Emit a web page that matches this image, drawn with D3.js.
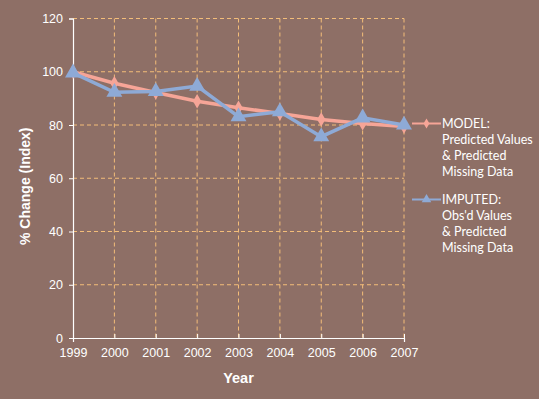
<!DOCTYPE html>
<html>
<head>
<meta charset="utf-8">
<script src="https://cdn.jsdelivr.net/npm/d3@7"></script>
<style>
  body { margin: 0; background: #8e6f66; }
  svg { display: block; }
</style>
</head>
<body>
<div id="chart"></div>
<script>
const years = [1999, 2000, 2001, 2002, 2003, 2004, 2005, 2006, 2007];
const model = [100, 95.7, 92.2, 88.9, 86.5, 84.3, 82.1, 80.6, 79.4];
const imputed = [99.6, 92.3, 92.6, 94.6, 83.1, 85.0, 75.6, 82.7, 80.0];
const yTicks = [0, 20, 40, 60, 80, 100, 120];
const legendModel = ["MODEL:", "Predicted Values", "& Predicted", "Missing Data"];
const legendImputed = ["IMPUTED:", "Obs'd Values", "& Predicted", "Missing Data"];

const width = 539;
const height = 399;
const pink = "#f6a597";
const blue = "#8eaad6";
const grid = "#f3bd79";

const svg = d3.select("#chart")
  .append("svg")
  .attr("width", width)
  .attr("height", height);

svg.append("rect")
  .attr("width", width)
  .attr("height", height)
  .attr("fill", "#8e6f66");

const x = d3.scaleLinear()
  .domain([1999, 2007])
  .range([73, 404]);

const y = d3.scaleLinear()
  .domain([0, 120])
  .range([338, 18.5]);

// gridlines
svg.append("g")
  .selectAll("line")
  .data(yTicks.filter(d => d > 0))
  .enter()
  .append("line")
  .attr("x1", x(1999))
  .attr("x2", x(2007))
  .attr("y1", d => y(d))
  .attr("y2", d => y(d))
  .attr("stroke", grid)
  .attr("stroke-dasharray", "4,3");

svg.append("g")
  .selectAll("line")
  .data(years.slice(1))
  .enter()
  .append("line")
  .attr("x1", d => x(d))
  .attr("x2", d => x(d))
  .attr("y1", y(120))
  .attr("y2", y(0))
  .attr("stroke", grid)
  .attr("stroke-dasharray", "4,3");

// axes
const xAxis = svg.append("g")
  .attr("transform", `translate(0,${y(0)})`)
  .call(d3.axisBottom(x).tickValues(years).tickFormat(d3.format("d")).tickSize(4).tickPadding(6));

const yAxis = svg.append("g")
  .attr("transform", `translate(${x(1999)},0)`)
  .call(d3.axisLeft(y).tickValues(yTicks).tickSize(4).tickPadding(4));

[xAxis, yAxis].forEach(g => {
  g.select(".domain").attr("stroke", "#ffffff").attr("stroke-width", 1.2);
  g.selectAll(".tick line").attr("stroke", "#ffffff");
  g.selectAll(".tick text")
    .attr("fill", "#ffffff")
    .style("font-family", "Liberation Sans, Arial, sans-serif")
    .style("font-size", "12.5px");
});
xAxis.selectAll(".tick line").attr("transform", "translate(0,-4)");
yAxis.selectAll(".tick text").attr("dx", "-2");

// axis titles
svg.append("text")
  .attr("x", x(2003))
  .attr("y", 383)
  .attr("text-anchor", "middle")
  .attr("fill", "#ffffff")
  .style("font-family", "Liberation Sans, Arial, sans-serif")
  .style("font-weight", "bold")
  .style("font-size", "14.5px")
  .text("Year");

svg.append("text")
  .attr("transform", `translate(30,${y(57)}) rotate(-90)`)
  .attr("text-anchor", "middle")
  .attr("fill", "#ffffff")
  .style("font-family", "Liberation Sans, Arial, sans-serif")
  .style("font-weight", "bold")
  .style("font-size", "14px")
  .text("% Change (Index)");

// series
const line = d3.line()
  .x((d, i) => x(years[i]))
  .y(d => y(d));

svg.append("path")
  .datum(model)
  .attr("d", line)
  .attr("fill", "none")
  .attr("stroke", pink)
  .attr("stroke-width", 3.5);

svg.append("g")
  .selectAll("path")
  .data(model)
  .enter()
  .append("path")
  .attr("d", d3.symbol().type(d3.symbolDiamond).size(60))
  .attr("transform", (d, i) => `translate(${x(years[i])},${y(d)})`)
  .attr("fill", pink);

svg.append("path")
  .datum(imputed)
  .attr("d", line)
  .attr("fill", "none")
  .attr("stroke", blue)
  .attr("stroke-width", 3.5);

svg.append("g")
  .selectAll("path")
  .data(imputed)
  .enter()
  .append("path")
  .attr("d", d3.symbol().type(d3.symbolTriangle).size(110))
  .attr("transform", (d, i) => `translate(${x(years[i])},${y(d)})`)
  .attr("fill", blue);

// legend
function legendItem(top, color, symbolType, size, lines) {
  const g = svg.append("g").attr("transform", `translate(412,${top})`);
  g.append("line")
    .attr("x1", 0).attr("x2", 29)
    .attr("stroke", color)
    .attr("stroke-width", 2);
  g.append("path")
    .attr("d", d3.symbol().type(symbolType).size(size))
    .attr("transform", "translate(14.5,0)")
    .attr("fill", color);
  g.selectAll("text")
    .data(lines)
    .enter()
    .append("text")
    .attr("x", 30)
    .attr("y", (d, i) => i * 16 + 4.5)
    .attr("fill", "#ffffff")
    .style("font-family", "Lato, 'Open Sans', sans-serif")
    .style("font-size", "12.5px")
    .text(d => d);
}

legendItem(123.5, pink, d3.symbolDiamond, 30, legendModel);
legendItem(199.5, blue, d3.symbolTriangle, 40, legendImputed);
</script>
</body>
</html>
